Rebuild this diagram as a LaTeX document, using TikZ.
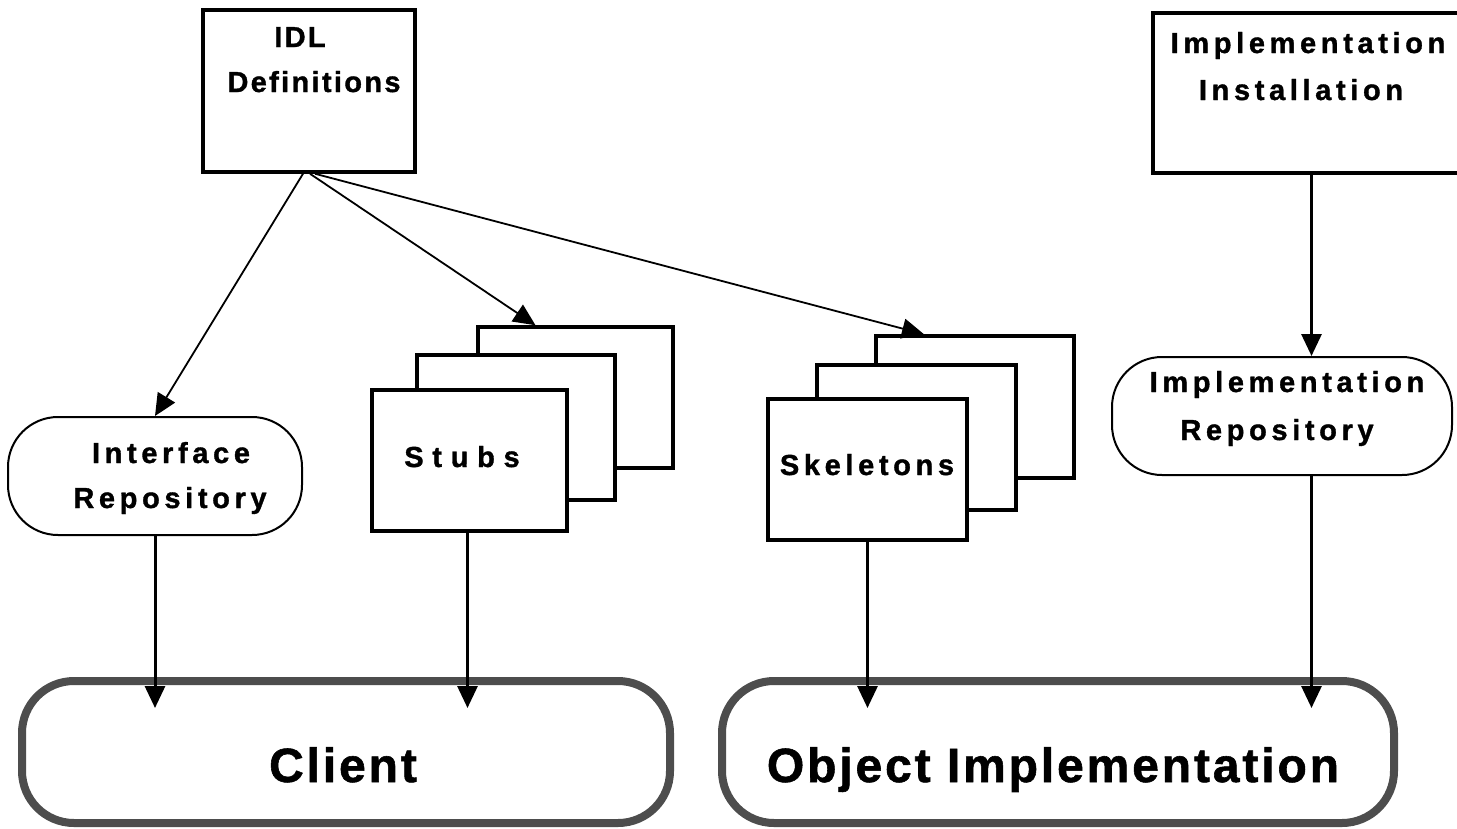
\documentclass[tikz,border=0pt]{standalone}
\usepackage{fontspec}
\setmainfont{Liberation Sans}
\newfontfamily\lblfont{Liberation Sans}[LetterSpace=16,FakeBold=1.2]
\newfontfamily\idlfont{Liberation Sans}[LetterSpace=8,FakeBold=1.2]
\newfontfamily\bigfont{Liberation Sans}[LetterSpace=6,FakeBold=1.2]
\usetikzlibrary{arrows.meta,calc}
\definecolor{rim}{HTML}{4D4D4D}
\tikzset{
  plainbox/.style={draw, line width=3.5pt, fill=white, inner sep=0pt},
  repobox/.style={draw, line width=2pt, fill=white, rounded corners=50pt, inner sep=0pt},
  partybox/.style={draw=rim, line width=8pt, fill=white, rounded corners=52pt, inner sep=0pt},
  lbl/.style={anchor=base, inner sep=0pt, font=\lblfont\bfseries\fontsize{29}{34}\selectfont},
  biglbl/.style={anchor=base, inner sep=0pt, font=\bigfont\bfseries\fontsize{48}{56}\selectfont},
  arr/.style={line width=3pt, -{Triangle[width=20pt,length=22pt]}},
  thinarr/.style={line width=1.8pt, -{Triangle[width=20pt,length=22pt]}}
}
\begin{document}
\begin{tikzpicture}[x=1pt,y=-1pt]
\useasboundingbox (0,0) rectangle (1457,828);
\clip (0,0) rectangle (1457,828);

% source boxes
\node[plainbox, minimum width=212pt, minimum height=162pt] (idl) at (309,91) {};
\node[lbl, font=\idlfont\bfseries\fontsize{29}{34}\selectfont] (idlA) at (300,47) {IDL};
\node[lbl, font=\idlfont\bfseries\fontsize{29}{34}\selectfont] (idlB) at (314,92) {Definitions};

\node[plainbox, minimum width=317pt, minimum height=160pt] (inst) at (1311.5,93) {};
\node[lbl] (instA) at (1308,53) {Implementation};
\node[lbl] (instB) at (1301,100) {Installation};

% repositories
\node[repobox, minimum width=294pt, minimum height=118pt] (ir) at (155,476) {};
\node[lbl] (irA) at (171,463) {Interface};
\node[lbl] (irB) at (170,508) {Repository};

\node[repobox, minimum width=340pt, minimum height=118pt] (impr) at (1282,416) {};
\node[lbl] (imprA) at (1287,392) {Implementation};
\node[lbl] (imprB) at (1277,440) {Repository};

% stacked stubs
\node[plainbox, minimum width=195pt, minimum height=141pt] (stC) at (575.5,397.5) {};
\node[plainbox, minimum width=198pt, minimum height=145pt] (stB) at (516,427.5) {};
\node[plainbox, minimum width=195pt, minimum height=141pt] (stA) at (469.5,460.5) {};
\node[lbl, font=\lblfont\bfseries\fontsize{29}{34}\selectfont\addfontfeature{LetterSpace=30}] (stL) at (462,467) {Stubs};

% stacked skeletons
\node[plainbox, minimum width=198pt, minimum height=142pt] (skC) at (975,407) {};
\node[plainbox, minimum width=199pt, minimum height=145pt] (skB) at (916.5,437.5) {};
\node[plainbox, minimum width=199pt, minimum height=141pt] (skA) at (867.5,469.5) {};
\node[lbl] (skL) at (867,475) {Skeletons};

% client and server
\node[partybox, minimum width=648pt, minimum height=142pt] (client) at (346,752) {};
\node[biglbl] (clientL) at (343,782) {Client};
\node[partybox, minimum width=672pt, minimum height=142pt] (obj) at (1058,752) {};
\node[biglbl] (objL) at (1053,782) {Object Implementation};

% generated from the IDL
\draw[thinarr] ($(idl.south)+(-6,0)$) -- (ir.north);
\draw[thinarr] ($(idl.south)+(1,0)$) -- ($(stC.north)+(-40,0)$);
\draw[thinarr] ($(idl.south)+(6,0)$) -- ($(skC.north)+(-51,0)$);

% installation into the implementation repository
\draw[arr] (inst.south) -- (inst.south |- impr.north);

% links down to client and object implementation
\draw[arr] (ir.south) -- ($(ir.south |- client.north)+(0,31)$);
\draw[arr] ($(stA.south)+(-2,0)$) -- ($(stA.south |- client.north)+(-2,31)$);
\draw[arr] (skA.south) -- ($(skA.south |- obj.north)+(0,31)$);
\draw[arr] (inst.south |- impr.south) -- ($(inst.south |- obj.north)+(0,31)$);
\end{tikzpicture}
\end{document}
